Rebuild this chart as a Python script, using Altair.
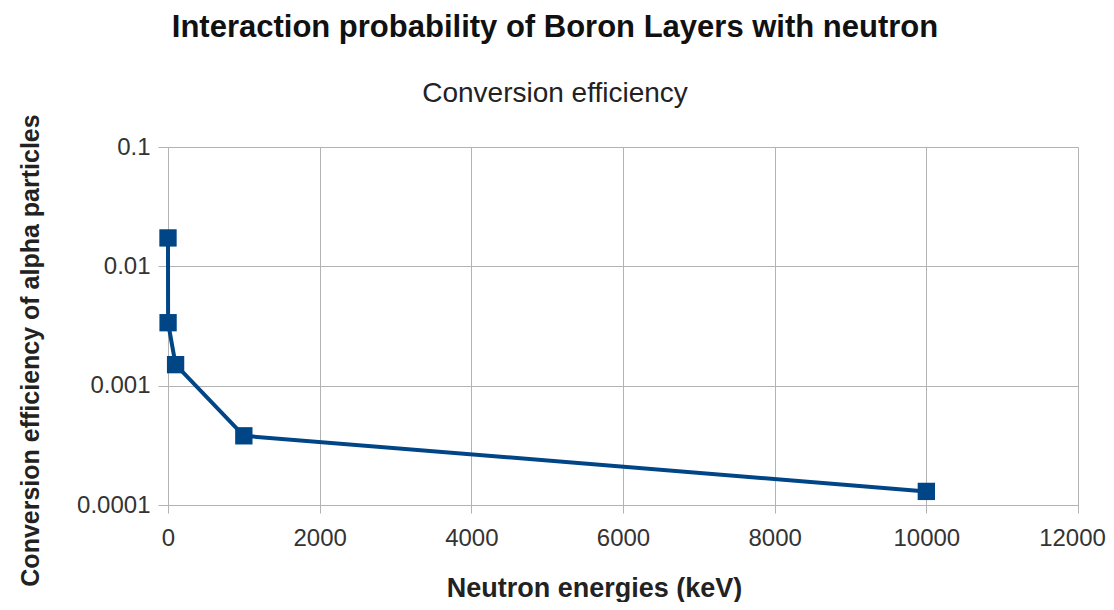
import altair as alt
import pandas as pd

energies_kev = [0.000025, 1, 100, 1000, 10000]
efficiency = [0.0173, 0.00337, 0.0015, 0.00038, 0.00013]
x_ticks = [0, 2000, 4000, 6000, 8000, 10000, 12000]
y_ticks = [0.0001, 0.001, 0.01, 0.1]

df = pd.DataFrame({"energy": energies_kev, "eff": efficiency})

FONT = "Liberation Sans"
BLUE = "#004586"
GRID = "#b3b3b3"

x_enc = alt.X(
    "energy:Q",
    scale=alt.Scale(domain=[0, 12000], nice=False),
    axis=alt.Axis(
        values=x_ticks, format="d", title="Neutron energies (keV)",
        grid=True, gridColor=GRID, domainColor=GRID, tickColor=GRID,
        tickSize=8, labelPadding=13, labelFontSize=24, labelColor="#333333",
        labelFlush=False,
        labelOffset=alt.expr("datum.value == 12000 ? -6 : 0"),
        titleFontSize=27, titleFontWeight="bold", titleColor="#222222",
        titleX=426, titleY=91, titleBaseline="alphabetic",
        labelFont=FONT, titleFont=FONT,
    ),
)
y_enc = alt.Y(
    "eff:Q",
    scale=alt.Scale(type="log", domain=[0.0001, 0.1], nice=False),
    axis=alt.Axis(
        values=y_ticks, format="~g", title="Conversion efficiency of alpha particles",
        grid=True, gridColor=GRID, domainColor=GRID, tickColor=GRID,
        tickSize=10, labelPadding=8, labelFontSize=24, labelColor="#333333",
        titleFontSize=25, titleFontWeight="bold", titleColor="#222222",
        titleX=-138, titleY=203, titleBaseline="middle",
        labelFont=FONT, titleFont=FONT,
    ),
)

line = alt.Chart(df).mark_line(color=BLUE, strokeWidth=4).encode(x=x_enc, y=y_enc)
pts = alt.Chart(df).mark_point(shape="square", filled=True, opacity=1, color=BLUE, size=300).encode(x=x_enc, y=y_enc)

chart = (
    alt.layer(line, pts)
    .properties(
        width=910,
        height=358,
        autosize=alt.AutoSizeParams(type="none"),
        padding={"left": 160, "top": 139, "right": 28, "bottom": 97},
        title=alt.TitleParams(
            text="Interaction probability of Boron Layers with neutron",
            subtitle="Conversion efficiency",
            anchor="middle",
            dx=-68,
            font=FONT,
            fontSize=31,
            fontWeight="bold",
            color="#111111",
            subtitleFont=FONT,
            subtitleFontSize=28,
            subtitleColor="#222222",
            subtitlePadding=36,
            offset=5,
        ),
    )
    .configure_view(stroke=None)
)

chart.save("out.html", embed_options={"renderer": "svg", "actions": False})
